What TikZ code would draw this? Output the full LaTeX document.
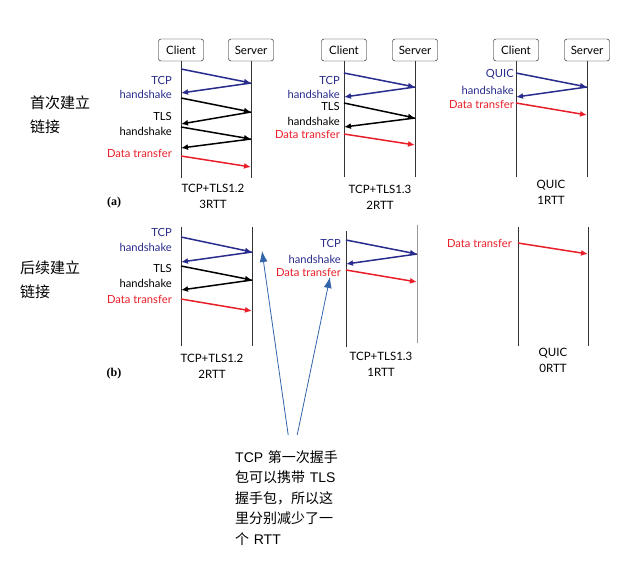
\documentclass[tikz,border=0pt]{standalone}
\usepackage{fontspec}
\setmainfont{Lato}
\newfontfamily\cjk{Noto Sans CJK SC}
\newfontfamily\arialfont{Liberation Sans}
\newfontfamily\timesfont{Liberation Serif}
\usetikzlibrary{arrows.meta}

\definecolor{tcpblue}{RGB}{40,44,140}
\definecolor{datared}{RGB}{232,30,40}
\definecolor{noteblue}{RGB}{50,100,170}

\tikzset{
  actor/.style={draw, rounded corners=2.5pt, minimum width=45pt, minimum height=22pt, inner sep=2pt, font=\fontsize{11.5}{12}\selectfont},
  life/.style={line width=1pt, black!80},
  msg/.style={line width=1.5pt, -{Latex[length=7pt,width=6pt]}},
  tcpmsg/.style={msg, tcpblue},
  tlsmsg/.style={msg, black},
  datamsg/.style={msg, datared},
  lbl/.style={anchor=east, inner sep=0pt, font=\fontsize{11.2}{12}\selectfont},
  captxt/.style={align=center, inner sep=0pt, font=\fontsize{11.5}{16}\selectfont},
  tag/.style={inner sep=0pt, font=\timesfont\bfseries\fontsize{12}{12}\selectfont},
  rowlbl/.style={anchor=west, align=left, inner sep=0pt, font=\cjk\fontsize{15}{24}\selectfont},
}

\begin{document}
\begin{tikzpicture}[x=1pt, y=-1pt]
\useasboundingbox (0,0) rectangle (629,574);

% row labels
\node[rowlbl] (rowa) at (30,115) {首次建立\\链接};
\node[rowlbl] (rowb) at (20,280) {后续建立\\链接};

% (a) TCP+TLS1.2
\node[actor] (ca1) at (181,50) {Client};
\node[actor] (sa1) at (251,50) {Server};
\coordinate (ca1e) at (181,178); \coordinate (sa1e) at (251,178);
\draw[life] (ca1) -- (ca1e);
\draw[life] (sa1) -- (sa1e);
\coordinate (a1c1) at (181,69);  \coordinate (a1s1) at (251,83);
\coordinate (a1c2) at (181,93);  \coordinate (a1c3) at (181,98);
\coordinate (a1s2) at (251,112); \coordinate (a1c4) at (181,124);
\coordinate (a1c5) at (181,127); \coordinate (a1s3) at (251,139);
\coordinate (a1c6) at (181,148); \coordinate (a1c7) at (181,156);
\coordinate (a1s4) at (251,167);
\draw[tcpmsg] (a1c1) -- (a1s1);
\draw[tcpmsg] (a1s1) -- (a1c2);
\draw[tlsmsg] (a1c3) -- (a1s2);
\draw[tlsmsg] (a1s2) -- (a1c4);
\draw[tlsmsg] (a1c5) -- (a1s3);
\draw[tlsmsg] (a1s3) -- (a1c6);
\draw[datamsg] (a1c7) -- (a1s4);
\node[lbl, tcpblue] (a1l1) at (172,80) {TCP};
\node[lbl, tcpblue] (a1l2) at (172,94) {handshake};
\node[lbl] (a1l3) at (172,116) {TLS};
\node[lbl] (a1l4) at (172,131) {handshake};
\node[lbl, datared] (a1l5) at (172,153) {Data transfer};
\node[captxt] (a1cap) at (213,196) {TCP+TLS1.2\\3RTT};
\node[tag] (taga) at (114,203) {(a)};

% (a) TCP+TLS1.3
\node[actor] (ca2) at (344,50) {Client};
\node[actor] (sa2) at (415,50) {Server};
\coordinate (ca2e) at (344,177); \coordinate (sa2e) at (415,177);
\draw[life] (ca2) -- (ca2e);
\draw[life] (sa2) -- (sa2e);
\coordinate (a2c1) at (344,73);  \coordinate (a2s1) at (415,87);
\coordinate (a2c2) at (344,97);  \coordinate (a2c3) at (344,103);
\coordinate (a2s2) at (415,118); \coordinate (a2c4) at (344,127);
\coordinate (a2c5) at (344,134); \coordinate (a2s3) at (415,145);
\draw[tcpmsg] (a2c1) -- (a2s1);
\draw[tcpmsg] (a2s1) -- (a2c2);
\draw[tlsmsg] (a2c3) -- (a2s2);
\draw[tlsmsg] (a2s2) -- (a2c4);
\draw[datamsg] (a2c5) -- (a2s3);
\node[lbl, tcpblue] (a2l1) at (340,80) {TCP};
\node[lbl, tcpblue] (a2l2) at (340,94) {handshake};
\node[lbl] (a2l3) at (340,106) {TLS};
\node[lbl] (a2l4) at (340,121) {handshake};
\node[lbl, datared] (a2l5) at (340,134) {Data transfer};
\node[captxt] (a2cap) at (380,197) {TCP+TLS1.3\\2RTT};

% (a) QUIC
\node[actor] (ca3) at (516,50) {Client};
\node[actor] (sa3) at (587,50) {Server};
\coordinate (ca3e) at (516,177); \coordinate (sa3e) at (587,177);
\draw[life] (ca3) -- (ca3e);
\draw[life] (sa3) -- (sa3e);
\coordinate (a3c1) at (516,73);  \coordinate (a3s1) at (587,87);
\coordinate (a3c2) at (516,97);  \coordinate (a3c3) at (516,103);
\coordinate (a3s2) at (587,115);
\draw[tcpmsg] (a3c1) -- (a3s1);
\draw[tcpmsg] (a3s1) -- (a3c2);
\draw[datamsg] (a3c3) -- (a3s2);
\node[lbl, tcpblue] (a3l1) at (514,74) {QUIC};
\node[lbl, tcpblue] (a3l2) at (514,90) {handshake};
\node[lbl, datared] (a3l3) at (514,104) {Data transfer};
\node[captxt] (a3cap) at (551,192) {QUIC\\1RTT};

% (b) TCP+TLS1.2
\coordinate (cb1t) at (181,227); \coordinate (cb1e) at (181,346);
\coordinate (sb1t) at (252,227); \coordinate (sb1e) at (252,346);
\draw[life] (cb1t) -- (cb1e);
\draw[life] (sb1t) -- (sb1e);
\coordinate (b1c1) at (181,237); \coordinate (b1s1) at (252,252);
\coordinate (b1c2) at (181,262); \coordinate (b1c3) at (181,266);
\coordinate (b1s2) at (252,280); \coordinate (b1c4) at (181,290);
\coordinate (b1c5) at (181,299); \coordinate (b1s3) at (252,311);
\draw[tcpmsg] (b1c1) -- (b1s1);
\draw[tcpmsg] (b1s1) -- (b1c2);
\draw[tlsmsg] (b1c3) -- (b1s2);
\draw[tlsmsg] (b1s2) -- (b1c4);
\draw[datamsg] (b1c5) -- (b1s3);
\node[lbl, tcpblue] (b1l1) at (172,232) {TCP};
\node[lbl, tcpblue] (b1l2) at (172,247) {handshake};
\node[lbl] (b1l3) at (172,268) {TLS};
\node[lbl] (b1l4) at (172,283) {handshake};
\node[lbl, datared] (b1l5) at (172,299) {Data transfer};
\node[captxt] (b1cap) at (212,366) {TCP+TLS1.2\\2RTT};
\node[tag] (tagb) at (114,374) {(b)};

% (b) TCP+TLS1.3
\coordinate (cb2t) at (346,231); \coordinate (cb2e) at (346,347);
\coordinate (sb2t) at (417,225); \coordinate (sb2e) at (417,343);
\draw[life] (cb2t) -- (cb2e);
\draw[life, black!40] (sb2t) -- (sb2e);
\coordinate (b2c1) at (346,240); \coordinate (b2s1) at (417,254);
\coordinate (b2c2) at (346,264); \coordinate (b2c3) at (346,270);
\coordinate (b2s2) at (417,282);
\draw[tcpmsg] (b2c1) -- (b2s1);
\draw[tcpmsg] (b2s1) -- (b2c2);
\draw[datamsg] (b2c3) -- (b2s2);
\node[lbl, tcpblue] (b2l1) at (341,243) {TCP};
\node[lbl, tcpblue] (b2l2) at (341,259) {handshake};
\node[lbl, datared] (b2l3) at (341,272) {Data transfer};
\node[captxt] (b2cap) at (381,364) {TCP+TLS1.3\\1RTT};

% (b) QUIC
\coordinate (cb3t) at (518,227); \coordinate (cb3e) at (518,346);
\coordinate (sb3t) at (588,227); \coordinate (sb3e) at (588,346);
\draw[life] (cb3t) -- (cb3e);
\draw[life] (sb3t) -- (sb3e);
\coordinate (b3c1) at (518,243); \coordinate (b3s1) at (588,254);
\draw[datamsg] (b3c1) -- (b3s1);
\node[lbl, datared] (b3l1) at (512,243) {Data transfer};
\node[captxt] (b3cap) at (553,360) {QUIC\\0RTT};

% note
\node[anchor=north west, inner sep=0pt, text width=115pt, align=left,
      font=\arialfont\fontsize{14}{20.5}\selectfont] (note) at (235,450)
  {TCP {\cjk 第一次握手}\\{\cjk 包可以携带} TLS\\{\cjk 握手包，所以这}\\{\cjk 里分别减少了一}\\{\cjk 个} RTT};
\coordinate (tip1) at (262,251);
\coordinate (tip2) at (330,277);
\draw[noteblue, line width=0.8pt, -{Latex[length=11pt,width=8pt]}] ([xshift=-4.5pt,yshift=15pt]note.north) -- (tip1);
\draw[noteblue, line width=0.8pt, -{Latex[length=11pt,width=8pt]}] ([xshift=4.5pt,yshift=15pt]note.north) -- (tip2);
\end{tikzpicture}
\end{document}
